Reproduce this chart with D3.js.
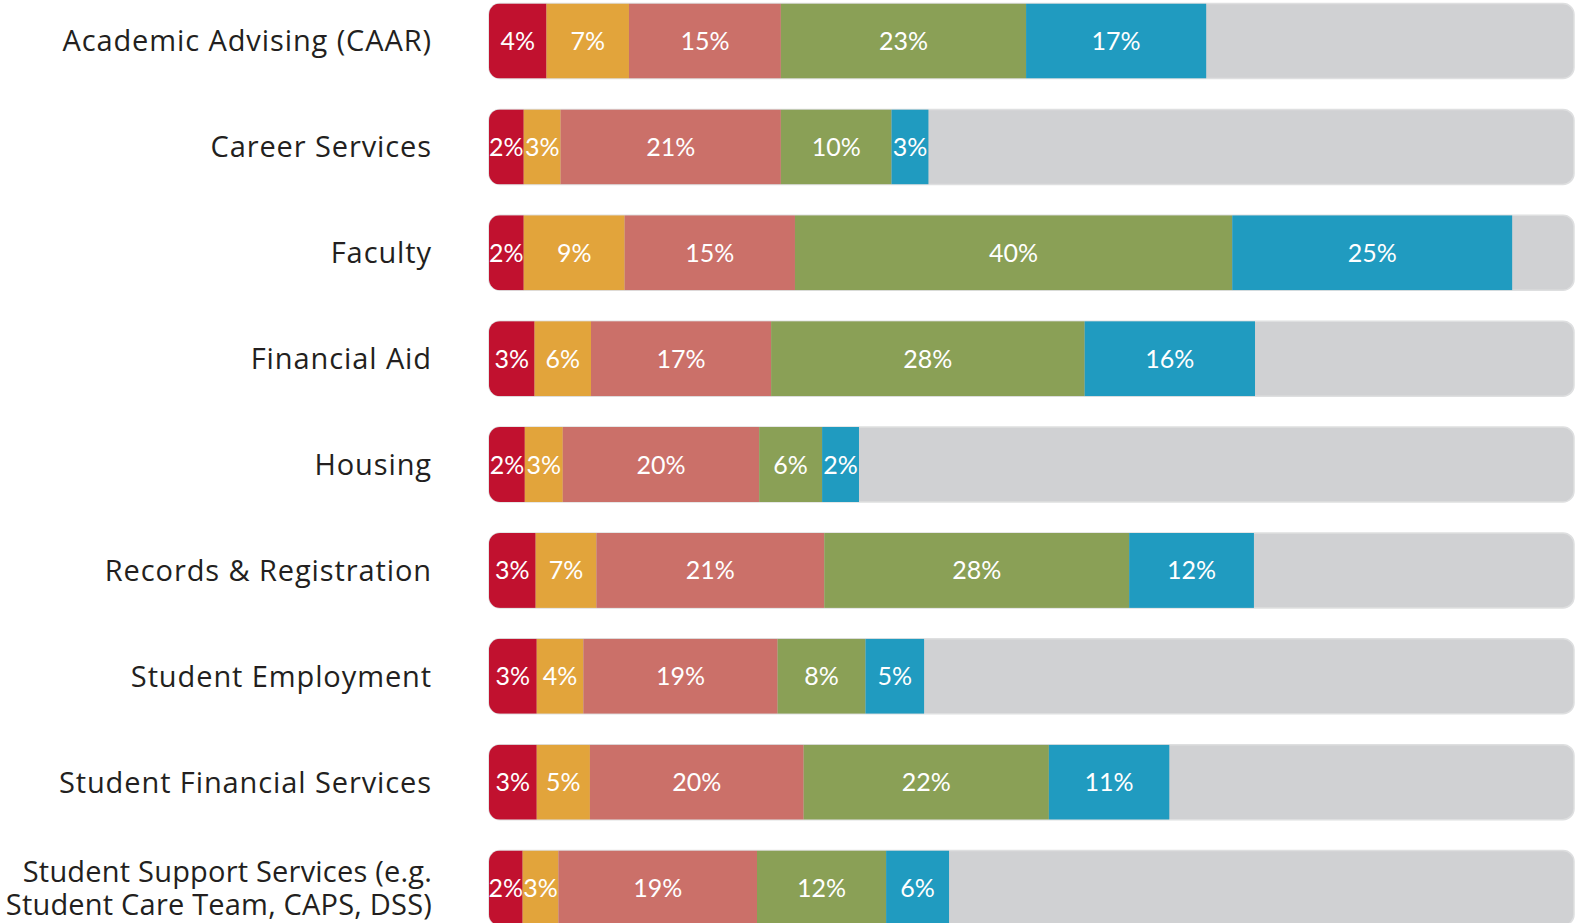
<!DOCTYPE html>
<html>
<head>
<meta charset="utf-8">
<script src="https://cdn.jsdelivr.net/npm/d3@7"></script>
<style>
  body { margin: 0; background: #fff; }
  svg { display: block; }
</style>
</head>
<body>
<div id="chart"></div>
<script>
//Categories, top to bottom
var categories = [
  "Academic Advising (CAAR)",
  "Career Services",
  "Faculty",
  "Financial Aid",
  "Housing",
  "Records & Registration",
  "Student Employment",
  "Student Financial Services",
  "Student Support Services (e.g.|Student Care Team, CAPS, DSS)"
];

//Segment lengths as drawn (percent of the full bar)
var redVals    = [5.3, 3.2, 3.2, 4.2, 3.3, 4.3, 4.4, 4.4, 3.1];
var orangeVals = [7.6, 3.4, 9.3, 5.2, 3.5, 5.6, 4.3, 4.9, 3.3];
var salmonVals = [14.0, 20.3, 15.7, 16.6, 18.1, 21.0, 17.9, 19.7, 18.3];
var greenVals  = [22.6, 10.2, 40.3, 28.9, 5.8, 28.1, 8.1, 22.6, 11.9];
var blueVals   = [16.6, 3.4, 25.8, 15.7, 3.4, 11.5, 5.4, 11.1, 5.8];

//Printed percentages
var redLabels    = [4, 2, 2, 3, 2, 3, 3, 3, 2];
var orangeLabels = [7, 3, 9, 6, 3, 7, 4, 5, 3];
var salmonLabels = [15, 21, 15, 17, 20, 21, 19, 20, 19];
var greenLabels  = [23, 10, 40, 28, 6, 28, 8, 22, 12];
var blueLabels   = [17, 3, 25, 16, 2, 12, 5, 11, 6];

var seriesKeys = ["red", "orange", "salmon", "green", "blue"];
var seriesColors = ["#c1112f", "#e2a43b", "#cb7069", "#8aa056", "#209bc0"];
var seriesVals = [redVals, orangeVals, salmonVals, greenVals, blueVals];
var seriesLabels = [redLabels, orangeLabels, salmonLabels, greenLabels, blueLabels];

var width = 1575,
  height = 923;

var svg = d3.select("#chart")
   .append("svg")
   .attr("width", width)
   .attr("height", height);

//Build table rows for d3.stack
var table = categories.map(function(c, i) {
  var row = {category: c, index: i};
  seriesKeys.forEach(function(k, j) { row[k] = seriesVals[j][i]; });
  return row;
});

var x = d3.scaleLinear()
   .domain([0, 100])
   .range([489, 1574]);

var y = d3.scalePoint()
   .domain(categories)
   .range([41, 888]);

var barH = 75;

var color = d3.scaleOrdinal()
   .domain(seriesKeys)
   .range(seriesColors);

var stack = d3.stack().keys(seriesKeys);
var stacked = stack(table);

//Clip paths so the colored segments follow the rounded grey bar
var defs = svg.append("defs");
categories.forEach(function(c, i) {
  defs.append("clipPath")
     .attr("id", "clip" + i)
     .append("rect")
     .attr("x", x(0))
     .attr("y", y(c) - barH / 2)
     .attr("width", x(100) - x(0))
     .attr("height", barH)
     .attr("rx", 11);
});

//Grey background bars
svg.selectAll(".bg")
   .data(categories)
   .enter()
   .append("rect")
   .attr("class", "bg")
   .attr("x", x(0))
   .attr("y", function(d) { return y(d) - barH / 2; })
   .attr("width", x(100) - x(0))
   .attr("height", barH)
   .attr("rx", 11)
   .style("fill", "#d0d1d3")
   .style("stroke", "#dedfe0")
   .style("stroke-width", 1.5);

//Colored segments
var layers = svg.selectAll(".layer")
   .data(stacked)
   .enter()
   .append("g")
   .attr("class", "layer")
   .style("fill", function(d) { return color(d.key); });

layers.selectAll("rect")
   .data(function(d) { return d; })
   .enter()
   .append("rect")
   .attr("clip-path", function(d) { return "url(#clip" + d.data.index + ")"; })
   .attr("x", function(d) { return x(d[0]); })
   .attr("y", function(d) { return y(d.data.category) - barH / 2; })
   .attr("width", function(d) { return x(d[1]) - x(d[0]); })
   .attr("height", barH);

//Percent labels
layers.each(function(layer, j) {
  d3.select(this).selectAll("text")
     .data(layer)
     .enter()
     .append("text")
     .text(function(d) { return seriesLabels[j][d.data.index] + "%"; })
     .attr("x", function(d) { return (x(d[0]) + x(d[1])) / 2; })
     .attr("y", function(d) { return y(d.data.category); })
     .attr("text-anchor", "middle")
     .attr("dy", "0.36em")
     .style("fill", "#fff")
     .style("font-family", "Lato, sans-serif")
     .style("font-size", "25px");
});

//Category labels, right aligned
svg.selectAll(".cat")
   .data(categories)
   .enter()
   .append("text")
   .attr("class", "cat")
   .attr("text-anchor", "end")
   .attr("y", function(d) { return y(d); })
   .style("fill", "#231f20")
   .style("font-family", "'Open Sans', sans-serif")
   .style("font-size", "29px")
   .each(function(d) {
     var lines = d.split("|");
     var t = d3.select(this);
     //Two-line label is set a bit tighter so it fits the left edge
     t.style("letter-spacing", lines.length > 1 ? "0.2px" : "0.9px");
     lines.forEach(function(line, i) {
       t.append("tspan")
          .attr("x", 432)
          .attr("dy", i == 0 ? (0.36 - (lines.length - 1) * 0.57) + "em" : "1.14em")
          .text(line);
     });
   });
</script>
</body>
</html>
